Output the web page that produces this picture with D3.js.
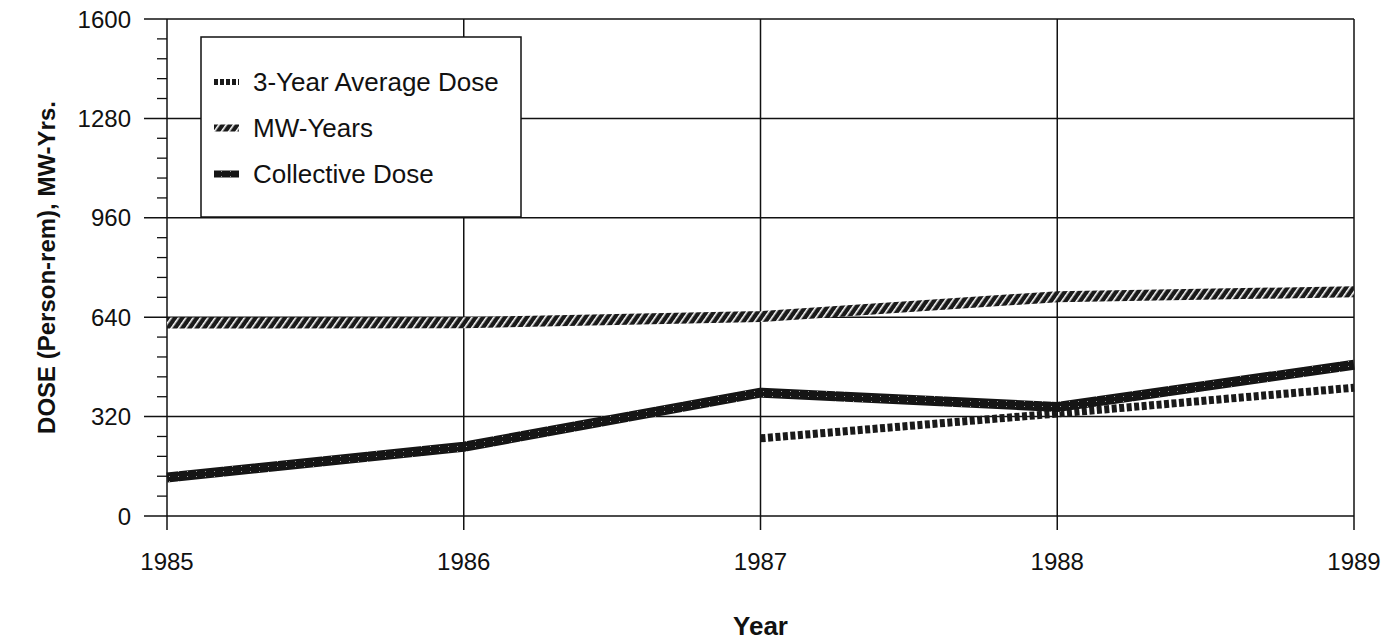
<!DOCTYPE html>
<html>
<head>
<meta charset="utf-8">
<script src="https://cdn.jsdelivr.net/npm/d3@7"></script>
<style>
  body { margin: 0; background: #fff; }
  text { font-family: "Liberation Sans", Arial, Helvetica, sans-serif; fill: #111; }
</style>
</head>
<body>
<svg id="chart" width="1398" height="644"></svg>
<script>
// data
var years = [1985, 1986, 1987, 1988, 1989];
var mwYears = [621, 622, 642, 706, 722];
var collectiveDose = [124, 223, 397, 351, 487];
var avgYears = [1987, 1988, 1989];
var avgDose = [250, 330, 413];
var yTicks = [0, 320, 640, 960, 1280, 1600];
var legendNames = ["3-Year Average Dose", "MW-Years", "Collective Dose"];

var svg = d3.select("#chart");
var margin = { left: 167, right: 44, top: 19, bottom: 128 },
    width = 1398 - margin.left - margin.right,
    height = 644 - margin.top - margin.bottom;

var x = d3.scaleLinear().domain([1985, 1989]).range([0, width]);
var y = d3.scaleLinear().domain([0, 1600]).range([height, 0]);

// patterns for the textured lines
var defs = svg.append("defs");
var hatch = defs.append("pattern")
    .attr("id", "hatch")
    .attr("patternUnits", "userSpaceOnUse")
    .attr("width", 6).attr("height", 6)
    .attr("patternTransform", "rotate(35)");
hatch.append("rect").attr("width", 6).attr("height", 6).attr("fill", "#1a1a1a");
hatch.append("rect").attr("x", 0).attr("width", 1.6).attr("height", 6).attr("fill", "#fff");

var speck = defs.append("pattern")
    .attr("id", "speck")
    .attr("patternUnits", "userSpaceOnUse")
    .attr("width", 9).attr("height", 5);
speck.append("rect").attr("width", 9).attr("height", 5).attr("fill", "#151515");
speck.append("rect").attr("x", 2).attr("y", 2).attr("width", 1).attr("height", 1).attr("fill", "#999");

var g = svg.append("g")
    .attr("transform", "translate(" + margin.left + "," + margin.top + ")");

// minor ticks on the y axis
var minor = d3.range(0, 1601, 64).filter(function(v) { return v % 320 !== 0; });
g.append("g")
    .selectAll("line")
    .data(minor)
    .enter().append("line")
    .attr("x1", -10).attr("x2", 0)
    .attr("y1", function(d) { return y(d); })
    .attr("y2", function(d) { return y(d); })
    .attr("stroke", "#111").attr("stroke-width", 1.3);

// horizontal grid + major ticks
g.append("g")
    .selectAll("line")
    .data(yTicks)
    .enter().append("line")
    .attr("x1", -23).attr("x2", width)
    .attr("y1", function(d) { return y(d); })
    .attr("y2", function(d) { return y(d); })
    .attr("stroke", "#111").attr("stroke-width", 1.5);

g.append("g")
    .selectAll("text")
    .data(yTicks)
    .enter().append("text")
    .attr("x", -36)
    .attr("y", function(d) { return y(d) + 8.5; })
    .attr("text-anchor", "end")
    .style("font-size", "24px")
    .text(function(d) { return d; });

// vertical grid + x ticks
g.append("g")
    .selectAll("line")
    .data(years)
    .enter().append("line")
    .attr("x1", function(d) { return x(d); })
    .attr("x2", function(d) { return x(d); })
    .attr("y1", 0).attr("y2", height + 14)
    .attr("stroke", "#111").attr("stroke-width", 1.5);

g.append("g")
    .selectAll("text")
    .data(years)
    .enter().append("text")
    .attr("x", function(d) { return x(d); })
    .attr("y", height + 54)
    .attr("text-anchor", "middle")
    .style("font-size", "24px")
    .text(function(d) { return d; });

// series
var line = d3.line()
    .x(function(d) { return x(d[0]); })
    .y(function(d) { return y(d[1]); });

g.append("path")
    .datum(d3.zip(years, mwYears))
    .attr("d", line)
    .attr("fill", "none")
    .attr("stroke", "url(#hatch)")
    .attr("stroke-width", 11);

g.append("path")
    .datum(d3.zip(avgYears, avgDose))
    .attr("d", line)
    .attr("fill", "none")
    .attr("stroke", "#1a1a1a")
    .attr("stroke-width", 8)
    .attr("stroke-dasharray", "5 2.5");

g.append("path")
    .datum(d3.zip(years, collectiveDose))
    .attr("d", line)
    .attr("fill", "none")
    .attr("stroke", "url(#speck)")
    .attr("stroke-linejoin", "round")
    .attr("stroke-width", 10);

// legend
var legend = svg.append("g").attr("transform", "translate(201,37)");
legend.append("rect")
    .attr("width", 320).attr("height", 180)
    .attr("fill", "#fff")
    .attr("stroke", "#111").attr("stroke-width", 1.5);

var item = legend.selectAll("g.item")
    .data(legendNames)
    .enter().append("g")
    .attr("class", "item")
    .attr("transform", function(d, i) { return "translate(0," + (45 + i * 46) + ")"; });

item.append("line")
    .attr("x1", 13).attr("x2", 38)
    .attr("y1", 0).attr("y2", 0)
    .attr("stroke", function(d, i) { return i === 0 ? "#1a1a1a" : (i === 1 ? "url(#hatch)" : "url(#speck)"); })
    .attr("stroke-width", function(d, i) { return i === 0 ? 6 : 7; })
    .attr("stroke-dasharray", function(d, i) { return i === 0 ? "4 2" : null; });

item.append("text")
    .attr("x", 52).attr("y", 9)
    .style("font-size", "26px")
    .text(function(d) { return d; });

// axis titles
svg.append("text")
    .attr("x", margin.left + x(1987))
    .attr("y", 635)
    .attr("text-anchor", "middle")
    .style("font-size", "26px")
    .style("font-weight", "bold")
    .text("Year");

svg.append("text")
    .attr("transform", "translate(55," + (margin.top + height / 2) + ") rotate(-90)")
    .attr("text-anchor", "middle")
    .style("font-size", "24px")
    .style("font-weight", "bold")
    .text("DOSE (Person-rem), MW-Yrs.");
</script>
</body>
</html>
